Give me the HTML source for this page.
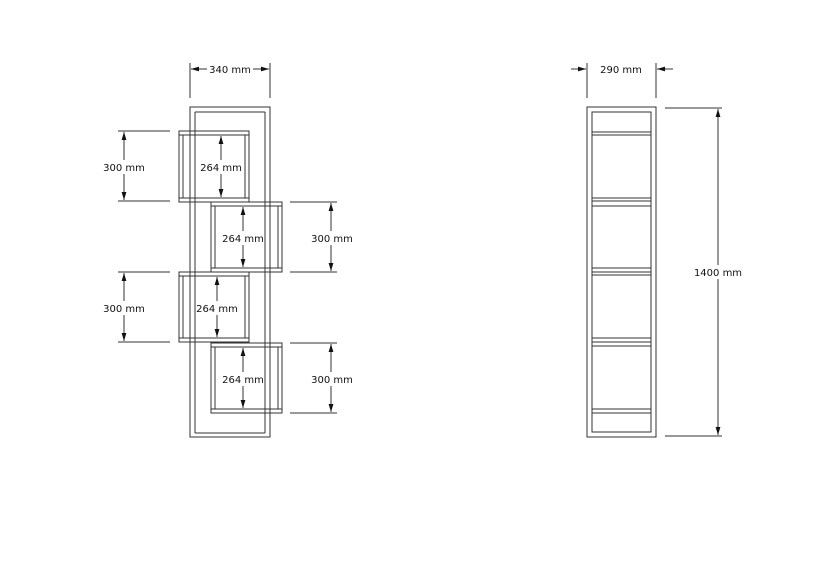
<!DOCTYPE html>
<html><head><style>body{margin:0;background:#fff}svg{display:block}</style></head><body>
<svg width="820" height="580" xmlns="http://www.w3.org/2000/svg" font-family="DejaVu Sans, Liberation Sans, sans-serif" font-size="10" fill="#111">
<defs><marker id="a" viewBox="0 0 10 6" refX="10" refY="3" markerWidth="8" markerHeight="5" orient="auto-start-reverse" markerUnits="userSpaceOnUse"><path d="M0,0L10,3L0,6z" fill="#111"/></marker></defs>
<g stroke="#333" stroke-width="1" fill="none">
<rect x="179" y="131" width="70" height="71"/><line x1="179" y1="135" x2="249" y2="135"/><line x1="179" y1="198" x2="249" y2="198"/><line x1="183" y1="135" x2="183" y2="198"/><line x1="245" y1="135" x2="245" y2="198"/>
<rect x="211" y="202" width="71" height="70"/><line x1="211" y1="206" x2="282" y2="206"/><line x1="211" y1="268" x2="282" y2="268"/><line x1="215" y1="206" x2="215" y2="268"/><line x1="278" y1="206" x2="278" y2="268"/>
<rect x="179" y="272" width="70" height="70"/><line x1="179" y1="276" x2="249" y2="276"/><line x1="179" y1="338" x2="249" y2="338"/><line x1="183" y1="276" x2="183" y2="338"/><line x1="245" y1="276" x2="245" y2="338"/>
<rect x="211" y="343" width="71" height="70"/><line x1="211" y1="347" x2="282" y2="347"/><line x1="211" y1="409" x2="282" y2="409"/><line x1="215" y1="347" x2="215" y2="409"/><line x1="278" y1="347" x2="278" y2="409"/>
<rect x="190" y="107" width="80" height="330"/><line x1="195" y1="112" x2="195" y2="433"/><line x1="265" y1="112" x2="265" y2="433"/><line x1="195" y1="112" x2="265" y2="112"/><line x1="195" y1="433" x2="265" y2="433"/>
<line x1="190" y1="63" x2="190" y2="98"/><line x1="270" y1="63" x2="270" y2="98"/>
<line x1="207" y1="69" x2="191" y2="69" marker-end="url(#a)"/><line x1="253" y1="69" x2="269" y2="69" marker-end="url(#a)"/>
<line x1="118" y1="131" x2="170" y2="131"/><line x1="118" y1="201" x2="170" y2="201"/><line x1="124" y1="132" x2="124" y2="200" marker-start="url(#a)" marker-end="url(#a)"/>
<line x1="118" y1="272" x2="170" y2="272"/><line x1="118" y1="342" x2="170" y2="342"/><line x1="124" y1="273" x2="124" y2="341" marker-start="url(#a)" marker-end="url(#a)"/>
<line x1="290" y1="202" x2="337" y2="202"/><line x1="290" y1="272" x2="337" y2="272"/><line x1="331" y1="203" x2="331" y2="271" marker-start="url(#a)" marker-end="url(#a)"/>
<line x1="290" y1="343" x2="337" y2="343"/><line x1="290" y1="413" x2="337" y2="413"/><line x1="331" y1="344" x2="331" y2="412" marker-start="url(#a)" marker-end="url(#a)"/>
<line x1="221" y1="136" x2="221" y2="197" marker-start="url(#a)" marker-end="url(#a)"/>
<line x1="243" y1="207" x2="243" y2="267" marker-start="url(#a)" marker-end="url(#a)"/>
<line x1="217" y1="277" x2="217" y2="337" marker-start="url(#a)" marker-end="url(#a)"/>
<line x1="243" y1="348" x2="243" y2="408" marker-start="url(#a)" marker-end="url(#a)"/>
<rect x="587" y="107" width="69" height="330"/><rect x="592" y="112" width="59" height="320"/>
<line x1="592" y1="132" x2="651" y2="132"/><line x1="592" y1="135" x2="651" y2="135"/>
<line x1="592" y1="198" x2="651" y2="198"/><line x1="592" y1="201" x2="651" y2="201"/><line x1="592" y1="206" x2="651" y2="206"/>
<line x1="592" y1="268" x2="651" y2="268"/><line x1="592" y1="272" x2="651" y2="272"/><line x1="592" y1="275" x2="651" y2="275"/>
<line x1="592" y1="338" x2="651" y2="338"/><line x1="592" y1="342" x2="651" y2="342"/><line x1="592" y1="346" x2="651" y2="346"/>
<line x1="592" y1="409" x2="651" y2="409"/><line x1="592" y1="413" x2="651" y2="413"/>
<line x1="587" y1="63" x2="587" y2="98"/><line x1="656" y1="63" x2="656" y2="98"/>
<line x1="571" y1="69" x2="586" y2="69" marker-end="url(#a)"/><line x1="673" y1="69" x2="657" y2="69" marker-end="url(#a)"/>
<line x1="665" y1="108" x2="722" y2="108"/><line x1="665" y1="436" x2="722" y2="436"/><line x1="718" y1="109" x2="718" y2="435" marker-start="url(#a)" marker-end="url(#a)"/>
</g>
<g stroke="none">
<text x="230" y="73" text-anchor="middle">340 mm</text>
<text x="621" y="73" text-anchor="middle">290 mm</text>
<rect x="120" y="160" width="8" height="14" fill="#fff"/><text x="124" y="171" text-anchor="middle">300 mm</text>
<rect x="120" y="301" width="8" height="14" fill="#fff"/><text x="124" y="312" text-anchor="middle">300 mm</text>
<rect x="327" y="231" width="8" height="14" fill="#fff"/><text x="332" y="242" text-anchor="middle">300 mm</text>
<rect x="327" y="372" width="8" height="14" fill="#fff"/><text x="332" y="383" text-anchor="middle">300 mm</text>
<rect x="217" y="160" width="8" height="14" fill="#fff"/><text x="221" y="171" text-anchor="middle">264 mm</text>
<rect x="239" y="231" width="8" height="14" fill="#fff"/><text x="243" y="242" text-anchor="middle">264 mm</text>
<rect x="213" y="301" width="8" height="14" fill="#fff"/><text x="217" y="312" text-anchor="middle">264 mm</text>
<rect x="239" y="372" width="8" height="14" fill="#fff"/><text x="243" y="383" text-anchor="middle">264 mm</text>
<rect x="714" y="265" width="8" height="14" fill="#fff"/><text x="718" y="276" text-anchor="middle">1400 mm</text>
</g>
</svg>
</body></html>
